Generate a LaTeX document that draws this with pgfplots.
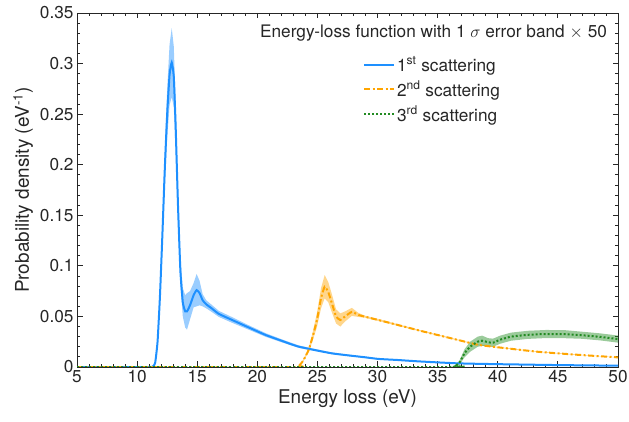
\documentclass[border=0pt]{standalone}
\usepackage{fontspec}
\setmainfont{TeX Gyre Heros}
\usepackage{pgfplots}
\pgfplotsset{compat=1.18}
\usepackage{pgfplotstable}
\usepgfplotslibrary{fillbetween}

\definecolor{axgray}{RGB}{38,38,38}
\definecolor{cblue}{RGB}{30,144,255}
\definecolor{corange}{RGB}{255,165,0}
\definecolor{cgreen}{RGB}{34,139,34}

\pgfplotstableread{
x y e
5.0 0 0
11.0 0 0
11.3 0.0005 0
11.5 0.004 0.0005
11.7 0.025 0.002
11.9 0.070 0.006
12.1 0.130 0.012
12.3 0.195 0.018
12.5 0.250 0.024
12.7 0.289 0.030
12.88 0.301 0.034
13.05 0.287 0.030
13.2 0.240 0.025
13.4 0.160 0.018
13.6 0.095 0.014
13.8 0.064 0.014
14.0 0.055 0.016
14.15 0.055 0.018
14.4 0.061 0.014
14.7 0.071 0.012
14.95 0.076 0.016
15.2 0.073 0.012
15.45 0.066 0.006
15.75 0.062 0.004
16.2 0.058 0.0035
16.8 0.0525 0.003
17.9 0.0465 0.0028
19.3 0.0390 0.0022
20.7 0.0316 0.0018
22.0 0.0260 0.0015
23.45 0.0201 0.0012
26.2 0.0135 0.0008
28.96 0.0096 0.0006
30.06 0.0080 0.0005
31.7 0.0069 0.0004
33.5 0.0055 0.0003
36.7 0.0036 0.0002
40.0 0.0028 0.0002
45.0 0.0019 0.0001
50.0 0.0013 0.0001
}\bluetab

\pgfplotstableread{
x y e
5.0 0 0
23.2 0 0
23.45 0.001 0
23.8 0.006 0.001
24.27 0.0168 0.002
24.6 0.030 0.004
24.96 0.0465 0.007
25.3 0.068 0.010
25.6 0.0794 0.0115
25.9 0.074 0.010
26.2 0.063 0.009
26.55 0.050 0.007
26.9 0.0465 0.0065
27.3 0.050 0.005
27.86 0.0545 0.004
28.4 0.0515 0.002
28.96 0.0497 0.001
30.06 0.0465 0.001
31.7 0.0415 0.0008
33.5 0.0360 0.0006
36.7 0.0267 0.0005
38.33 0.0220 0.0004
40.0 0.0195 0.0004
43.3 0.0151 0.0003
46.5 0.0122 0.0003
50.0 0.0095 0.0002
}\orangetab

\pgfplotstableread{
x y e
5.0 0 0
36.0 0 0
36.4 0.001 0.0005
36.8 0.004 0.002
37.23 0.0135 0.004
37.7 0.020 0.005
38.33 0.025 0.005
38.7 0.026 0.005
39.2 0.0245 0.004
39.6 0.024 0.004
40.2 0.027 0.004
41.1 0.030 0.004
42.5 0.0318 0.004
44.0 0.0326 0.004
45.5 0.0325 0.004
47.0 0.0314 0.0035
48.5 0.0298 0.0035
50.0 0.0276 0.0035
}\greentab

\begin{document}
\begin{tikzpicture}
\begin{axis}[
  scale only axis, width=541bp, height=354bp,
  xmin=5, xmax=50, ymin=0, ymax=0.35,
  xtick={5,10,...,50},
  ytick={0,0.05,0.1,0.15,0.2,0.25,0.3,0.35},
  minor x tick num=4, minor y tick num=4,
  scaled y ticks=false,
  yticklabel style={/pgf/number format/fixed, /pgf/number format/precision=2},
  /pgf/number format/assume math mode=true,
  tick label style={font=\fontsize{17.3}{20}\selectfont, text=axgray},
  label style={font=\fontsize{19}{22}\selectfont, text=axgray},
  xlabel={Energy loss (eV)},
  ylabel={Probability density (eV\textsuperscript{-1})},
  axis line style={axgray, line width=0.8bp},
  every tick/.style={axgray, line width=0.8bp},
  major tick length=5.5bp, minor tick length=3bp,
  legend style={at={(rel axis cs:0.523,0.888)}, anchor=north west, draw=none, fill=none,
    font=\fontsize{17.3}{20}\selectfont, text=axgray, row sep=4.5bp,
    nodes={inner sep=2bp}},
  legend cell align=left,
  legend image code/.code={\draw[#1] (0bp,0bp) -- (30bp,0bp);},
]
% bands
\addplot[draw=none, name path=bu, forget plot] table[x=x, y expr=\thisrow{y}+\thisrow{e}] {\bluetab};
\addplot[draw=none, name path=bl, forget plot] table[x=x, y expr=\thisrow{y}-\thisrow{e}] {\bluetab};
\addplot[cblue, fill opacity=0.45, draw=none, forget plot] fill between[of=bu and bl];
\addplot[draw=none, name path=ou, forget plot] table[x=x, y expr=\thisrow{y}+\thisrow{e}] {\orangetab};
\addplot[draw=none, name path=ol, forget plot] table[x=x, y expr=\thisrow{y}-\thisrow{e}] {\orangetab};
\addplot[corange, fill opacity=0.45, draw=none, forget plot] fill between[of=ou and ol];
\addplot[draw=none, name path=gu, forget plot] table[x=x, y expr=\thisrow{y}+\thisrow{e}] {\greentab};
\addplot[draw=none, name path=gl, forget plot] table[x=x, y expr=\thisrow{y}-\thisrow{e}] {\greentab};
\addplot[cgreen, fill opacity=0.45, draw=none, forget plot] fill between[of=gu and gl];
% lines
\addplot[draw=cblue, line width=2bp, smooth, tension=0.3] table[x=x, y=y] {\bluetab};
\addlegendentry{1\textsuperscript{st} scattering}
\addplot[draw=corange, line width=2bp, smooth, tension=0.3, dash pattern=on 6bp off 2.5bp on 2bp off 2.5bp] table[x=x, y=y] {\orangetab};
\addlegendentry{2\textsuperscript{nd} scattering}
\addplot[draw=cgreen, line width=2bp, smooth, tension=0.3, dash pattern=on 2bp off 2bp] table[x=x, y=y] {\greentab};
\addlegendentry{3\textsuperscript{rd} scattering}
\node[font=\fontsize{17.3}{20}\selectfont, text=axgray] at (rel axis cs:0.659,0.944)
  {Energy-loss function with 1 $\sigma$ error band $\times$ 50};
\end{axis}
\pgfresetboundingbox
\path (current axis.south west) ++(-77bp,-55bp) rectangle ++(629bp,422bp);
\end{tikzpicture}
\end{document}
